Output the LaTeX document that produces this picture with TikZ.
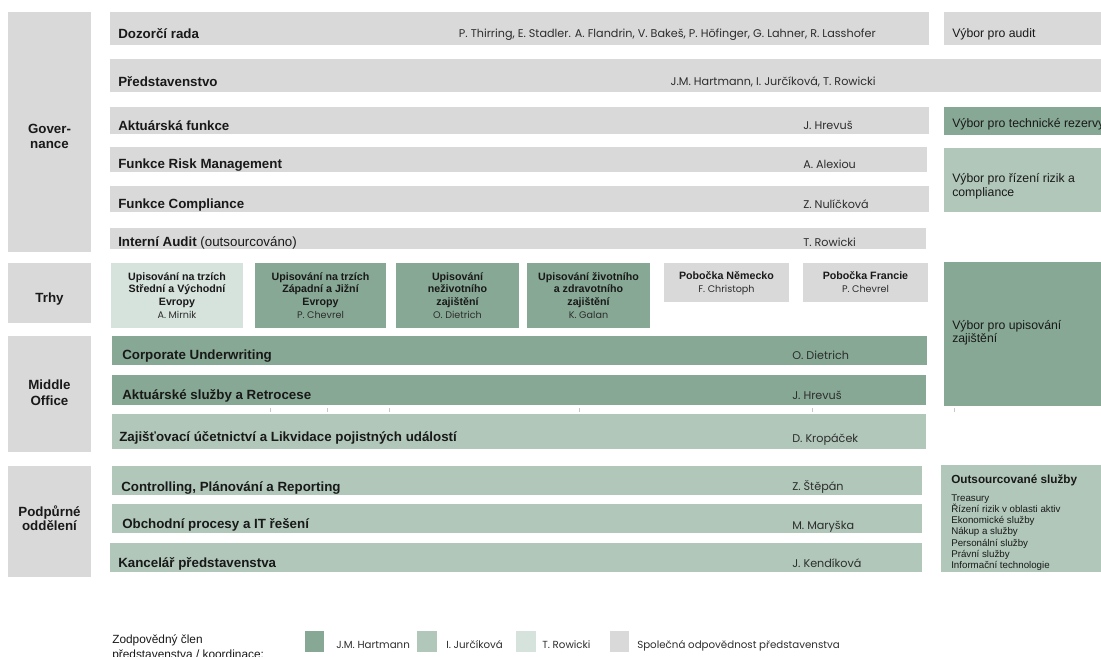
\documentclass[tikz,border=0pt]{standalone}
\usepackage{fontspec}
\setmainfont{Liberation Sans}
\newfontfamily\nmfont{Poppins}
\definecolor{dg}{RGB}{134,168,148}
\definecolor{lg}{RGB}{176,199,186}
\definecolor{vg}{RGB}{214,226,220}
\definecolor{gy}{RGB}{217,217,217}
\definecolor{tx}{RGB}{25,25,25}
\definecolor{nmc}{RGB}{45,45,45}
\newcommand\bx[6]{\node[box,fill=#6,minimum width={(#4-#2)*0.75pt},minimum height={(#5-#3)*0.75pt}] (#1) at (#2,#3) {};}
\tikzset{
  box/.style={rectangle,anchor=north west,inner sep=0pt,outer sep=0pt,draw=none},
  lbl/.style={anchor=base west,inner sep=0pt,text=tx,font=\fontsize{10}{12}\selectfont\bfseries},
  nm/.style={anchor=base west,inner sep=0pt,text=nmc,font=\nmfont\fontsize{8.4}{9}\selectfont},
  nmb/.style={anchor=base,inner sep=0pt,text=nmc,font=\nmfont\fontsize{7.2}{8}\selectfont},
  cat/.style={anchor=base,inner sep=0pt,text=tx,font=\fontsize{10}{12}\selectfont\bfseries},
  tb/.style={anchor=base,inner sep=0pt,text=tx,font=\fontsize{8}{9}\selectfont\bfseries},
  rt/.style={anchor=base west,inner sep=0pt,text=tx,font=\fontsize{9.2}{10}\selectfont},
  lst/.style={anchor=base west,inner sep=0pt,text=tx,font=\fontsize{7.3}{8}\selectfont},
  lg1/.style={anchor=base west,inner sep=0pt,text=tx,font=\fontsize{8.9}{10}\selectfont},
  lgn/.style={anchor=base west,inner sep=0pt,text=nmc,font=\nmfont\fontsize{7.7}{9}\selectfont},
  tick/.style={draw=black!22,line width=0.6pt},
}
\begin{document}
\begin{tikzpicture}[x=0.75pt,y=-0.75pt]
\useasboundingbox (0,0) rectangle (1101,657);
% category column
\bx{gov}{8}{12}{91}{252}{gy}
\bx{trhy}{8}{263}{91}{323}{gy}
\bx{mo}{8}{336}{91}{452}{gy}
\bx{po}{8}{466}{91}{577}{gy}
\node[cat] (gov1) at (49.5,133) {Gover-};
\node[cat] (gov2) at (49.5,148) {nance};
\node[cat] (trhyt) at (49.5,302) {Trhy};
\node[cat] (mo1) at (49.5,389) {Middle};
\node[cat] (mo2) at (49.5,405) {Office};
\node[cat] (po1) at (49.5,516) {Podpůrné};
\node[cat] (po2) at (49.5,530) {oddělení};
% governance rows
\bx{dozor}{110}{12}{929}{45}{gy}
\bx{pred}{110}{59}{1101}{92}{gy}
\bx{akt}{110}{107}{929}{134}{gy}
\bx{risk}{110}{147}{927}{172}{gy}
\bx{comp}{110}{186}{929}{212}{gy}
\bx{aud}{110}{228}{926}{249}{gy}
\node[lbl] (dozor-t) at (118,38) {Dozorčí rada};
\node[nm,anchor=base east] (dozor-n) at (876,37) {P. Thirring, E. Stadler. A. Flandrin, V. Bakeš, P. Höfinger, G. Lahner, R. Lasshofer};
\node[lbl] (pred-t) at (118,86) {Představenstvo};
\node[nm,anchor=base east] (pred-n) at (876,85) {J.M. Hartmann, I. Jurčíková, T. Rowicki};
\node[lbl] (akt-t) at (118,130) {Aktuárská funkce};
\node[nm] (akt-n) at (803,129) {J. Hrevuš};
\node[lbl] (risk-t) at (118,168) {Funkce Risk Management};
\node[nm] (risk-n) at (803,168) {A. Alexiou};
\node[lbl] (comp-t) at (118,208) {Funkce Compliance};
\node[nm] (comp-n) at (803,208) {Z. Nulíčková};
\node[lbl] (aud-t) at (118,246) {Interní Audit \mdseries(outsourcováno)};
\node[nm] (aud-n) at (803,246) {T. Rowicki};
% committees
\bx{vaud}{944}{12}{1101}{45}{gy}
\bx{vtech}{944}{107}{1101}{135}{dg}
\bx{vriz}{944}{148}{1101}{212}{lg}
\bx{vupis}{944}{262}{1101}{406}{dg}
\bx{vout}{941}{465}{1101}{572}{lg}
\node[rt] (vaud-t) at (952,37) {Výbor pro audit};
\node[rt] (vtech-t) at (952,127) {Výbor pro technické rezervy};
\node[rt] (vriz-t1) at (952,182) {Výbor pro řízení rizik a};
\node[rt] (vriz-t2) at (952,196) {compliance};
\node[rt] (vupis-t1) at (952,329) {Výbor pro upisování};
\node[rt] (vupis-t2) at (952,342) {zajištění};
\node[lbl,font=\fontsize{8.8}{10}\selectfont\bfseries] (vout-t) at (951,483) {Outsourcované služby};
\begin{scope}
\clip (941,465) rectangle (1101,572);
\node[lst] (vout-1) at (951,501) {Treasury};
\node[lst] (vout-2) at (951,512.3) {Řízení rizik v oblasti aktiv};
\node[lst] (vout-3) at (951,523.6) {Ekonomické služby};
\node[lst] (vout-4) at (951,534.9) {Nákup a služby};
\node[lst] (vout-5) at (951,546.2) {Personální služby};
\node[lst] (vout-6) at (951,557.5) {Právní služby};
\node[lst] (vout-7) at (951,568.8) {Informační technologie};
\end{scope}
% markets
\bx{m1}{111}{263}{243}{328}{vg}
\bx{m2}{255}{263}{386}{328}{dg}
\bx{m3}{396}{263}{519}{328}{dg}
\bx{m4}{527}{263}{650}{328}{dg}
\bx{m5}{664}{263}{789}{302}{gy}
\bx{m6}{803}{263}{928}{302}{gy}
\node[tb] (m1a) at (177,280) {Upisování na trzích};
\node[tb] (m1b) at (177,292.5) {Střední a Východní};
\node[tb] (m1c) at (177,305) {Evropy};
\node[nmb] (m1n) at (177,318) {A. Mirnik};
\node[tb] (m2a) at (320.5,280) {Upisování na trzích};
\node[tb] (m2b) at (320.5,292.5) {Západní a Jižní};
\node[tb] (m2c) at (320.5,305) {Evropy};
\node[nmb] (m2n) at (320.5,318) {P. Chevrel};
\node[tb] (m3a) at (457.5,280) {Upisování};
\node[tb] (m3b) at (457.5,292.5) {neživotního};
\node[tb] (m3c) at (457.5,305) {zajištění};
\node[nmb] (m3n) at (457.5,318) {O. Dietrich};
\node[tb] (m4a) at (588.5,280) {Upisování životního};
\node[tb] (m4b) at (588.5,292.5) {a zdravotního};
\node[tb] (m4c) at (588.5,305) {zajištění};
\node[nmb] (m4n) at (588.5,318) {K. Galan};
\node[tb] (m5a) at (726.5,279) {Pobočka Německo};
\node[nmb] (m5n) at (726.5,292) {F. Christoph};
\node[tb] (m6a) at (865.5,279) {Pobočka Francie};
\node[nmb] (m6n) at (865.5,292) {P. Chevrel};
% middle office
\bx{corp}{112}{336}{927}{365}{dg}
\bx{akts}{112}{375}{926}{405}{dg}
\bx{zaj}{112}{414}{926}{449}{lg}
\node[lbl] (corp-t) at (122,359) {Corporate Underwriting};
\node[nm] (corp-n) at (792,359) {O. Dietrich};
\node[lbl] (akts-t) at (122,399) {Aktuárské služby a Retrocese};
\node[nm] (akts-n) at (792,399) {J. Hrevuš};
\node[lbl] (zaj-t) at (119,441) {Zajišťovací účetnictví a Likvidace pojistných událostí};
\node[nm] (zaj-n) at (792,442) {D. Kropáček};
\foreach \tx in {270,327,389,579,812,954} \draw[tick] (\tx,408) -- (\tx,412);
% support
\bx{ctrl}{112}{466}{922}{495}{lg}
\bx{obch}{112}{504}{922}{533}{lg}
\bx{kanc}{110}{543}{922}{572}{lg}
\node[lbl] (ctrl-t) at (121,491) {Controlling, Plánování a Reporting};
\node[nm] (ctrl-n) at (792,490) {Z. Štěpán};
\node[lbl] (obch-t) at (122,528) {Obchodní procesy a IT řešení};
\node[nm] (obch-n) at (792,529) {M. Maryška};
\node[lbl] (kanc-t) at (118,567) {Kancelář představenstva};
\node[nm] (kanc-n) at (792,567) {J. Kendíková};
% legend
\node[lg1] (leg1) at (112,643) {Zodpovědný člen};
\node[lg1] (leg2) at (112,658) {představenstva / koordinace:};
\bx{sw1}{305}{631}{324}{652}{dg}
\bx{sw2}{417}{631}{437}{652}{lg}
\bx{sw3}{516}{631}{536}{652}{vg}
\bx{sw4}{610}{631}{629}{652}{gy}
\node[lgn] (sw1-t) at (336,648) {J.M. Hartmann};
\node[lgn] (sw2-t) at (446,648) {I. Jurčíková};
\node[lgn] (sw3-t) at (542,648) {T. Rowicki};
\node[lgn] (sw4-t) at (637,648) {Společná odpovědnost představenstva};
\end{tikzpicture}
\end{document}
